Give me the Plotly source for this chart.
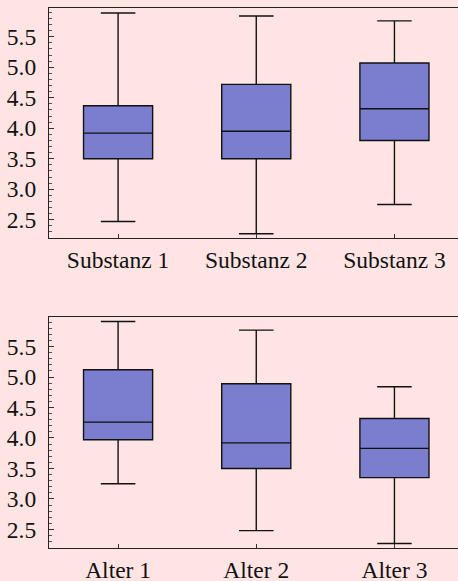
import plotly.graph_objects as go

# Top panel
sub_cats = ["Substanz 1", "Substanz 2", "Substanz 3"]
sub_lower = [2.47, 2.27, 2.75]
sub_q1 = [3.50, 3.50, 3.80]
sub_median = [3.92, 3.95, 4.32]
sub_q3 = [4.37, 4.72, 5.07]
sub_upper = [5.89, 5.84, 5.76]

# Bottom panel
age_cats = ["Alter 1", "Alter 2", "Alter 3"]
age_lower = [3.25, 2.48, 2.27]
age_q1 = [3.97, 3.50, 3.35]
age_median = [4.26, 3.92, 3.83]
age_q3 = [5.12, 4.89, 4.32]
age_upper = [5.91, 5.77, 4.84]

y_ticks = [2.5, 3.0, 3.5, 4.0, 4.5, 5.0, 5.5]

BG = "#FFE4E4"
FILL = "#7B7DCF"
FONT = "Liberation Serif"

fig = go.Figure()


def add_boxes(cats, lo, q1, med, q3, hi, xa, ya):
    for i, c in enumerate(cats):
        fig.add_trace(go.Box(
            x=[c], q1=[q1[i]], median=[med[i]], q3=[q3[i]],
            lowerfence=[lo[i]], upperfence=[hi[i]],
            boxpoints=False, width=0.5, whiskerwidth=0.5,
            fillcolor=FILL, line=dict(color="#111111", width=1.4),
            xaxis=xa, yaxis=ya, showlegend=False, hoverinfo="skip",
        ))


add_boxes(sub_cats, sub_lower, sub_q1, sub_median, sub_q3, sub_upper, "x", "y")
add_boxes(age_cats, age_lower, age_q1, age_median, age_q3, age_upper, "x2", "y2")

H = 581.0


def yaxis(dom, anchor):
    return dict(
        domain=dom, anchor=anchor, range=[2.2, 5.98], tickvals=y_ticks,
        ticktext=[f"{v:.1f}" for v in y_ticks],
        ticks="inside", ticklen=5, tickcolor="#333333", tickwidth=1,
        minor=dict(dtick=0.1, tick0=2.2, ticks="inside", ticklen=2.5,
                   tickcolor="#555555", tickwidth=1),
        showline=True, linecolor="#222222", linewidth=1.3, mirror=False,
        showgrid=False, zeroline=False, automargin=False,
        ticklabelstandoff=7,
        tickfont=dict(family=FONT, size=23.5, color="#111111"),
    )


def xaxis(cats, anchor):
    return dict(
        type="category", categoryorder="array", categoryarray=cats,
        range=[-0.5, 2.46], domain=[0, 1], anchor=anchor,
        ticks="inside", ticklen=4, tickcolor="#333333",
        showline=True, linecolor="#222222", linewidth=1.3, mirror=True,
        showgrid=False, zeroline=False, automargin=False,
        ticklabelstandoff=1,
        tickfont=dict(family=FONT, size=23.5, color="#111111"),
    )


fig.update_layout(
    width=458, height=581,
    margin=dict(l=49, r=0, t=0, b=0),
    paper_bgcolor=BG, plot_bgcolor=BG,
    xaxis=xaxis(sub_cats, "y"),
    yaxis=yaxis([1 - 238 / H, 1 - 7.5 / H], "x"),
    xaxis2=xaxis(age_cats, "y2"),
    yaxis2=yaxis([1 - 547.7 / H, 1 - 317.3 / H], "x2"),
)

fig.write_html(
    "out.html",
    config={"displayModeBar": False},
    post_script="document.body.style.margin='0';document.body.style.background='%s';" % BG,
)
